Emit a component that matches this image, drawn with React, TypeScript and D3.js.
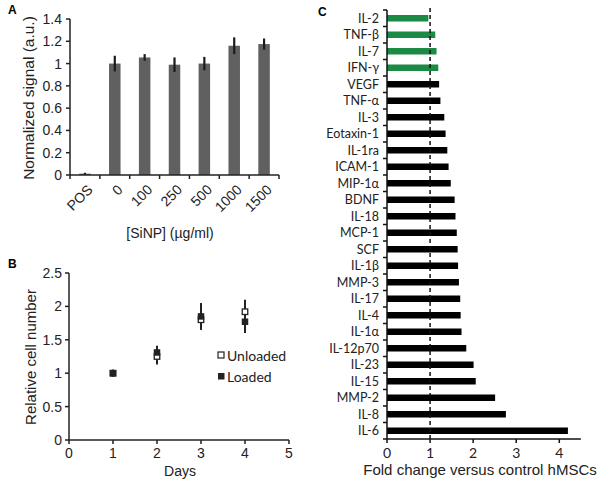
import React from "react";
import * as d3 from "d3";

const catsA = ["POS", "0", "100", "250", "500", "1000", "1500"];
const valsA = [0.012, 1.0, 1.055, 0.99, 1.0, 1.16, 1.175];
const errA = [0.008, 0.07, 0.03, 0.065, 0.06, 0.075, 0.05];
const ticksA = [0, 0.2, 0.4, 0.6, 0.8, 1, 1.2, 1.4];

const daysB = [1, 2, 3, 4];
const unloadedB = [1.0, 1.25, 1.8, 1.92];
const unloadedErrB = [0.05, 0.12, 0.15, 0.18];
const loadedB = [1.0, 1.31, 1.85, 1.77];
const loadedErrB = [0.05, 0.1, 0.2, 0.17];
const ticksBY = [0, 0.5, 1, 1.5, 2, 2.5];
const ticksBX = [0, 1, 2, 3, 4, 5];

const catsC = ["IL-2", "TNF-β", "IL-7", "IFN-γ", "VEGF", "TNF-α", "IL-3", "Eotaxin-1", "IL-1ra", "ICAM-1", "MIP-1α", "BDNF", "IL-18", "MCP-1", "SCF", "IL-1β", "MMP-3", "IL-17", "IL-4", "IL-1α", "IL-12p70", "IL-23", "IL-15", "MMP-2", "IL-8", "IL-6"];
const valsC = [0.96, 1.12, 1.15, 1.19, 1.21, 1.24, 1.33, 1.36, 1.4, 1.43, 1.48, 1.57, 1.59, 1.62, 1.64, 1.65, 1.67, 1.7, 1.71, 1.73, 1.84, 2.01, 2.06, 2.51, 2.76, 4.2];
const greenC = ["IL-2", "TNF-β", "IL-7", "IFN-γ"];
const ticksC = [0, 1, 2, 3, 4];

const arial = "'Liberation Sans', Arial, sans-serif";
const cal = "Lato, 'Open Sans', sans-serif";

function PanelA() {
  const x = d3.scaleBand().domain(catsA).range([70, 279]);
  const y = d3.scaleLinear().domain([0, 1.4]).range([175, 19]);
  const bw = 11.5;
  const bounds = d3.range(catsA.length + 1).map((i) => 70 + i * x.step());
  return (
    <g>
      <text x={8} y={14} fontFamily={arial} fontWeight="bold" fontSize={12}>A</text>
      {catsA.map((c, i) => {
        const cx = (x(c) as number) + x.bandwidth() / 2;
        return (
          <g key={c}>
            <rect x={cx - bw / 2} y={y(valsA[i])} width={bw} height={175 - y(valsA[i])} fill="#606060" />
            <line x1={cx} x2={cx} y1={y(valsA[i] + errA[i])} y2={y(valsA[i] - errA[i])} stroke="#1a1a1a" strokeWidth={2.2} />
            <text transform={`translate(${cx + 6},${188}) rotate(-45)`} textAnchor="end" dominantBaseline="middle" fontFamily={arial} fontSize={14} fill="#222">{c}</text>
          </g>
        );
      })}
      <line x1={70} x2={70} y1={19} y2={175} stroke="#222" strokeWidth={1.5} />
      <line x1={70} x2={279} y1={175} y2={175} stroke="#222" strokeWidth={1.5} />
      {ticksA.map((t) => (
        <g key={t}>
          <line x1={66} x2={70} y1={y(t)} y2={y(t)} stroke="#222" strokeWidth={1.5} />
          <text x={62} y={y(t)} textAnchor="end" dominantBaseline="central" fontFamily={arial} fontSize={14} fill="#222">{t}</text>
        </g>
      ))}
      {bounds.map((b, i) => (
        <line key={i} x1={b} x2={b} y1={175} y2={179} stroke="#222" strokeWidth={1.5} />
      ))}
      <text transform="translate(28,98) rotate(-90)" textAnchor="middle" dominantBaseline="central" fontFamily={arial} fontSize={15.5} fill="#222">Normalized signal (a.u.)</text>
      <text x={170} y={238} textAnchor="middle" fontFamily={arial} fontSize={14} fill="#222">[SiNP] (µg/ml)</text>
    </g>
  );
}

function PanelB() {
  const x = d3.scaleLinear().domain([0, 5]).range([69, 289]);
  const y = d3.scaleLinear().domain([0, 2.5]).range([440, 273]);
  const s = 6.5;
  return (
    <g>
      <text x={8} y={268} fontFamily={arial} fontWeight="bold" fontSize={12}>B</text>
      {daysB.map((d, i) => (
        <g key={d}>
          <line x1={x(d)} x2={x(d)} y1={y(unloadedB[i] + unloadedErrB[i])} y2={y(unloadedB[i] - unloadedErrB[i])} stroke="#222" strokeWidth={2} />
          <line x1={x(d)} x2={x(d)} y1={y(loadedB[i] + loadedErrB[i])} y2={y(loadedB[i] - loadedErrB[i])} stroke="#222" strokeWidth={2} />
        </g>
      ))}
      {daysB.map((d, i) => (
        <rect key={"u" + d} x={x(d) - s / 2 + 0.5} y={y(unloadedB[i]) - s / 2 + 0.5} width={s - 1} height={s - 1} fill="white" stroke="#222" strokeWidth={1.3} />
      ))}
      {daysB.map((d, i) => (
        <rect key={"l" + d} x={x(d) - s / 2} y={y(loadedB[i]) - s / 2} width={s} height={s} fill="#222" />
      ))}
      <line x1={69} x2={69} y1={273} y2={440} stroke="#222" strokeWidth={1.5} />
      <line x1={69} x2={289} y1={440} y2={440} stroke="#222" strokeWidth={1.5} />
      {ticksBY.map((t) => (
        <g key={t}>
          <line x1={65} x2={69} y1={y(t)} y2={y(t)} stroke="#222" strokeWidth={1.5} />
          <text x={62} y={y(t)} textAnchor="end" dominantBaseline="central" fontFamily={arial} fontSize={14} fill="#222">{t}</text>
        </g>
      ))}
      {ticksBX.map((t) => (
        <g key={t}>
          <line x1={x(t)} x2={x(t)} y1={440} y2={444} stroke="#222" strokeWidth={1.5} />
          <text x={x(t)} y={458} textAnchor="middle" fontFamily={arial} fontSize={14} fill="#222">{t}</text>
        </g>
      ))}
      <text transform="translate(30,357) rotate(-90)" textAnchor="middle" dominantBaseline="central" fontFamily={arial} fontSize={15} fill="#222">Relative cell number</text>
      <text x={180} y={476} textAnchor="middle" fontFamily={arial} fontSize={14} fill="#222">Days</text>
      <rect x={218} y={352} width={6} height={6} fill="white" stroke="#222" strokeWidth={1.2} />
      <text x={227} y={355} dominantBaseline="central" fontFamily={cal} fontSize={14} fill="#222">Unloaded</text>
      <rect x={218} y={373} width={6.5} height={6.5} fill="#222" />
      <text x={227} y={376} dominantBaseline="central" fontFamily={cal} fontSize={14} fill="#222">Loaded</text>
    </g>
  );
}

function PanelC() {
  const x = d3.scaleLinear().domain([0, 4]).range([387, 559.3]);
  const y = d3.scaleBand().domain(catsC).range([10, 439]);
  const bh = 6.5;
  const bounds = d3.range(catsC.length + 1).map((i) => 10 + i * y.step());
  return (
    <g>
      <text x={318} y={16} fontFamily={arial} fontWeight="bold" fontSize={12}>C</text>
      {catsC.map((c, i) => {
        const cy = (y(c) as number) + y.bandwidth() / 2;
        return (
          <g key={c}>
            <rect x={387} y={cy - bh / 2} width={x(valsC[i]) - 387} height={bh} fill={greenC.includes(c) ? "#1b8a45" : "#000"} />
            <text x={379} y={cy} textAnchor="end" dominantBaseline="central" fontFamily={cal} fontSize={12.5} fill="#222">{c}</text>
          </g>
        );
      })}
      <line x1={x(1)} x2={x(1)} y1={8} y2={439} stroke="#111" strokeWidth={1.5} strokeDasharray="4,3" />
      <line x1={387} x2={387} y1={10} y2={439} stroke="#111" strokeWidth={1.5} />
      <line x1={387} x2={x(4.5)} y1={439} y2={439} stroke="#111" strokeWidth={1.5} />
      {bounds.map((b, i) => (
        <line key={i} x1={383} x2={387} y1={b} y2={b} stroke="#111" strokeWidth={1.5} />
      ))}
      {ticksC.map((t) => (
        <g key={t}>
          <line x1={x(t)} x2={x(t)} y1={439} y2={443} stroke="#111" strokeWidth={1.5} />
          <text x={x(t)} y={452} textAnchor="middle" dominantBaseline="central" fontFamily={cal} fontSize={14} fill="#222">{t}</text>
        </g>
      ))}
      <text x={480} y={475} textAnchor="middle" fontFamily={arial} fontSize={15} fill="#222">Fold change versus  control hMSCs</text>
    </g>
  );
}

export default function App() {
  return (
    <svg width={601} height={485} style={{ position: "absolute", left: 0, top: 0, background: "white" }}>
      <rect width={601} height={485} fill="white" />
      <PanelA />
      <PanelB />
      <PanelC />
    </svg>
  );
}
